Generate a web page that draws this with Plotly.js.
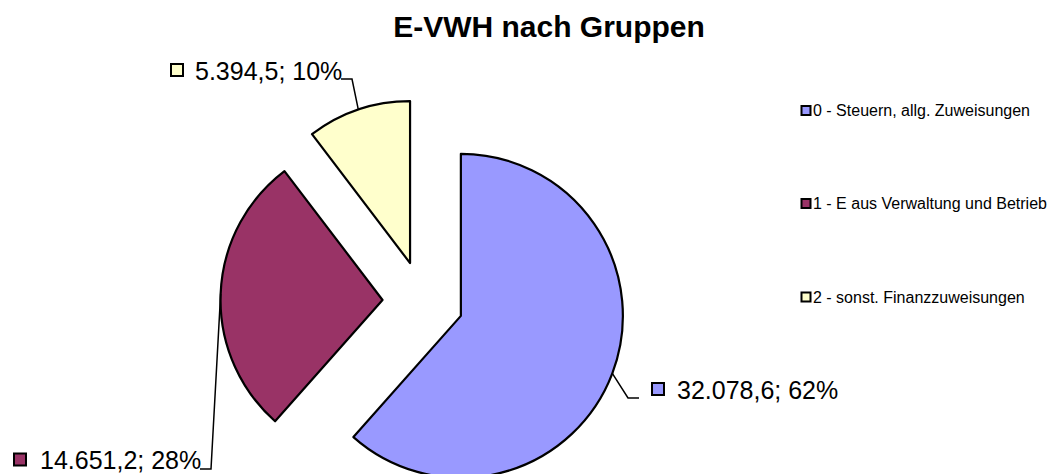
<!DOCTYPE html>
<html>
<head>
<meta charset="utf-8">
<script src="https://cdn.plot.ly/plotly-3.0.1.min.js"></script>
<style>
  html, body { margin: 0; padding: 0; width: 1061px; height: 474px; overflow: hidden; background: #fff; }
  #wrap { width: 1061px; height: 474px; overflow: hidden; }
  #chart { width: 1061px; height: 603px; }
</style>
</head>
<body>
<div id="wrap"><div id="chart"></div></div>
<script>
// ---- data ----
const categories = ["0 - Steuern, allg. Zuweisungen", "1 - E aus Verwaltung und Betrieb", "2 - sonst. Finanzzuweisungen"];
const values = [32078.6, 14651.2, 5394.5];
const colors = ["#9999FF", "#993366", "#FFFFCC"];
const chartTitle = "E-VWH nach Gruppen";

// ---- layout constants (pixels) ----
const W = 1061, H = 603;
const CX = 423, CY = 301.5, PULL = 0.25;
const BOX = 405;                 // pie box width -> radius = BOX / (2 + 2*PULL)
const R = BOX / (2 + 2 * PULL);
const FONT = "Liberation Sans, Arial, sans-serif";

const px = x => x / W;
const py = y => 1 - y / H;

function fmtDE(v) {
  const parts = v.toFixed(1).split(".");
  parts[0] = parts[0].replace(/\B(?=(\d{3})+(?!\d))/g, ".");
  return parts[0] + "," + parts[1];
}

const total = values.reduce((a, b) => a + b, 0);
// mid-arc anchor of every pulled slice (clockwise from 12 o'clock)
let cum = 0;
const anchors = values.map(v => {
  const a0 = cum / total * 2 * Math.PI;
  cum += v;
  const a1 = cum / total * 2 * Math.PI;
  const m = (a0 + a1) / 2;
  const ax = CX + PULL * R * Math.sin(m) + R * Math.sin(m);
  const ay = CY - PULL * R * Math.cos(m) - R * Math.cos(m);
  return [ax, ay];
});
const labelTexts = values.map(v => fmtDE(v) + "; " + Math.round(v / total * 100) + "%");

// label placement (pixels): marker centre, text start, elbow points
const labelPos = [
  { mx: 658, my: 389, tx: 675, ty: 390, elbow: [[628, 398], [639, 398]] },
  { mx: 20,  my: 459.5, tx: 38, ty: 460, elbow: [[211, 469], [200, 469]] },
  { mx: 177, my: 70, tx: 193, ty: 71, elbow: [[352, 79], [341, 79]] }
];
const legendY = [110.5, 203.5, 297];
const legendX = 806, legendTextX = 811;

const shapes = [];
const annotations = [];

labelPos.forEach((p, i) => {
  const a = anchors[i];
  const pts = [a].concat(p.elbow);
  const path = "M" + pts.map(q => px(q[0]) + "," + py(q[1])).join(" L");
  shapes.push({ type: "path", xref: "paper", yref: "paper", path: path,
    line: { color: "#000", width: 1.5 } });
  const s = 6;
  shapes.push({ type: "rect", xref: "paper", yref: "paper",
    x0: px(p.mx - s), x1: px(p.mx + s), y0: py(p.my + s), y1: py(p.my - s),
    fillcolor: colors[i], line: { color: "#000", width: 2 } });
  annotations.push({ xref: "paper", yref: "paper", x: px(p.tx), y: py(p.ty),
    xanchor: "left", yanchor: "middle", showarrow: false, text: labelTexts[i],
    font: { family: FONT, size: 25, color: "#000" } });
});

categories.forEach((c, i) => {
  const s = 4.5;
  shapes.push({ type: "rect", xref: "paper", yref: "paper",
    x0: px(legendX - s), x1: px(legendX + s), y0: py(legendY[i] + s), y1: py(legendY[i] - s),
    fillcolor: colors[i], line: { color: "#000", width: 2 } });
  annotations.push({ xref: "paper", yref: "paper", x: px(legendTextX), y: py(legendY[i]),
    xanchor: "left", yanchor: "middle", showarrow: false, text: c,
    font: { family: FONT, size: 16, color: "#000" } });
});

const trace = {
  type: "pie",
  labels: categories,
  values: values,
  sort: false,
  direction: "clockwise",
  rotation: 0,
  pull: values.map(() => PULL),
  marker: { colors: colors, line: { color: "#000", width: 2.2 } },
  textinfo: "none",
  hoverinfo: "label+value+percent",
  showlegend: false,
  domain: { x: [px(CX - BOX / 2), px(CX + BOX / 2)], y: [0, 1] }
};

const layout = {
  width: W, height: H,
  margin: { l: 0, r: 0, t: 0, b: 0 },
  paper_bgcolor: "#fff",
  showlegend: false,
  title: {
    text: "<b>" + chartTitle + "</b>",
    font: { family: FONT, size: 30, color: "#000" },
    xref: "paper", x: 549 / W, xanchor: "center",
    yref: "container", y: 1 - 26 / H, yanchor: "middle"
  },
  shapes: shapes,
  annotations: annotations
};

Plotly.newPlot("chart", [trace], layout, { displayModeBar: false, staticPlot: true });
</script>
</body>
</html>
